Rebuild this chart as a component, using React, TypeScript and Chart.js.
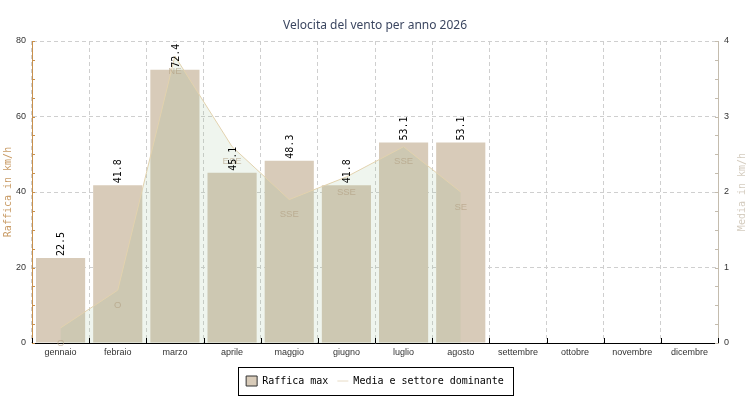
import React, { useEffect, useRef } from 'react';
import { Chart, registerables } from 'chart.js';

Chart.register(...registerables);

const mesi = [
  'gennaio', 'febraio', 'marzo', 'aprile', 'maggio', 'giugno',
  'luglio', 'agosto', 'settembre', 'ottobre', 'novembre', 'dicembre',
];
// raffica massima (km/h), asse sinistro
const raffica = [22.5, 41.8, 72.4, 45.1, 48.3, 41.8, 53.1, 53.1, null, null, null, null];
// velocita media (km/h), asse destro
const media = [0.2, 0.7, 3.8, 2.6, 1.9, 2.2, 2.6, 2.0, null, null, null, null];
// settore dominante
const settore = ['O', 'O', 'NE', 'ESE', 'SSE', 'SSE', 'SSE', 'SE', '', '', '', ''];

const titolo = 'Velocita del vento per anno 2026';
const titoloSx = 'Raffica in km/h';
const titoloDx = 'Media in km/h';

const coloreSx = '#c8904c';
const coloreDx = '#c4bcae';
const mono = '"DejaVu Sans Mono", monospace';
const sans = '"Liberation Sans", Arial, sans-serif';

// etichette sulle barre e settori sui punti
const etichette = {
  id: 'etichette',
  afterDatasetsDraw(chart: any) {
    const ctx = chart.ctx;
    ctx.save();
    const punti = chart.getDatasetMeta(1);
    ctx.font = '9.5px ' + sans;
    ctx.fillStyle = 'rgba(175,155,125,0.6)';
    ctx.textAlign = 'center';
    ctx.textBaseline = 'middle';
    punti.data.forEach((p: any, i: number) => {
      if (media[i] == null || !settore[i]) return;
      ctx.fillText(settore[i], p.x, p.y + 15);
    });

    const barre = chart.getDatasetMeta(0);
    ctx.font = '10px ' + mono;
    ctx.fillStyle = '#000';
    ctx.textAlign = 'left';
    barre.data.forEach((b: any, i: number) => {
      const v = raffica[i];
      if (v == null) return;
      ctx.save();
      ctx.translate(b.x + 1, b.y - 2);
      ctx.rotate(-Math.PI / 2);
      ctx.fillText(v.toFixed(1), 0, 0);
      ctx.restore();
    });
    ctx.restore();
  },
};

// tacche interne sugli assi, titoli assi, cornice legenda
const decorazioni = {
  id: 'decorazioni',
  afterDraw(chart: any) {
    const { ctx, chartArea: ca, scales } = chart;
    ctx.save();
    ctx.lineWidth = 1;
    const seg = (x1: number, y1: number, x2: number, y2: number) => {
      ctx.beginPath();
      ctx.moveTo(x1, y1);
      ctx.lineTo(x2, y2);
      ctx.stroke();
    };

    ctx.strokeStyle = coloreSx;
    for (let v = 0; v <= 80; v += 5) {
      const y = Math.round(scales.y.getPixelForValue(v)) + 0.5;
      seg(ca.left, y, ca.left + 3, y);
    }
    ctx.strokeStyle = coloreDx;
    for (let v = 0; v <= 4; v += 0.25) {
      const y = Math.round(scales.y1.getPixelForValue(v)) + 0.5;
      seg(ca.right - 3, y, ca.right, y);
    }
    ctx.strokeStyle = '#000';
    for (let i = 0; i <= mesi.length; i++) {
      const x = Math.round(ca.left + (i * (ca.right - ca.left)) / mesi.length) + 0.5;
      seg(x, ca.bottom - 5, x, ca.bottom);
    }

    const cy = (ca.top + ca.bottom) / 2;
    ctx.font = '10px ' + mono;
    ctx.textAlign = 'center';
    ctx.textBaseline = 'middle';
    ctx.fillStyle = '#c89a64';
    ctx.save();
    ctx.translate(8, cy);
    ctx.rotate(-Math.PI / 2);
    ctx.fillText(titoloSx, 0, 0);
    ctx.restore();
    ctx.fillStyle = '#d4ccbf';
    ctx.save();
    ctx.translate(chart.width - 8, cy);
    ctx.rotate(-Math.PI / 2);
    ctx.fillText(titoloDx, 0, 0);
    ctx.restore();

    const lg = chart.legend;
    if (lg && lg.legendHitBoxes && lg.legendHitBoxes.length) {
      const hb = lg.legendHitBoxes;
      const l = Math.min(...hb.map((h: any) => h.left)) - 8;
      const r = Math.max(...hb.map((h: any) => h.left + h.width)) + 9;
      ctx.strokeStyle = '#000';
      ctx.strokeRect(Math.round(l) + 0.5, Math.round(lg.top) + 0.5, Math.round(r - l), Math.round(lg.height) - 1);
    }
    ctx.restore();
  },
};

const App: React.FC = () => {
  const canvasRef = useRef<HTMLCanvasElement>(null);
  const chartRef = useRef<Chart | null>(null);

  useEffect(() => {
    document.body.style.margin = '0';
    if (!canvasRef.current) return;
    if (chartRef.current) chartRef.current.destroy();

    chartRef.current = new Chart(canvasRef.current, {
      type: 'bar',
      data: {
        labels: mesi,
        datasets: [
          {
            type: 'bar',
            label: 'Raffica max',
            data: raffica,
            backgroundColor: '#d8cbb9',
            borderWidth: 0,
            categoryPercentage: 1,
            barPercentage: 0.86,
            yAxisID: 'y',
            order: 1,
          },
          {
            type: 'line',
            label: 'Media e settore dominante',
            data: media,
            borderColor: '#e2d2ae',
            borderWidth: 1,
            backgroundColor: 'rgba(150,190,140,0.15)',
            fill: 'origin',
            pointRadius: 0,
            tension: 0,
            yAxisID: 'y1',
            order: 0,
          },
        ] as any,
      },
      options: {
        animation: false,
        responsive: true,
        maintainAspectRatio: false,
        layout: { padding: { top: 0, left: 0, right: 0, bottom: 4 } },
        plugins: {
          title: {
            display: true,
            text: titolo,
            color: '#3b4660',
            font: { family: '"Noto Sans", sans-serif', size: 12, weight: 'normal' },
            padding: { top: 18, bottom: 8.6 },
          },
          legend: {
            position: 'bottom',
            labels: {
              font: { family: mono, size: 10 },
              color: '#000',
              usePointStyle: true,
              boxHeight: 10,
              pointStyleWidth: 11,
              padding: 9,
              sort: (a: any, b: any) => a.datasetIndex - b.datasetIndex,
              generateLabels: (chart: any) => {
                const items = Chart.defaults.plugins.legend.labels.generateLabels(chart);
                items.forEach((it: any) => {
                  if (it.datasetIndex === 0) {
                    it.pointStyle = 'rect';
                    it.fillStyle = '#d8cbb9';
                    it.strokeStyle = '#333';
                    it.lineWidth = 1;
                  } else {
                    it.pointStyle = 'line';
                    it.strokeStyle = '#e8dcc6';
                    it.lineWidth = 1;
                  }
                });
                return items;
              },
            },
          },
          tooltip: { enabled: false },
        },
        scales: {
          x: {
            grid: { color: '#cfcfcf', drawTicks: false, offset: true },
            border: { color: '#000', dash: [4, 3] },
            ticks: { font: { family: sans, size: 9 }, color: '#333', padding: 4, maxRotation: 0, autoSkip: false },
            afterFit: (s: any) => { s.height = 24; },
          },
          y: {
            position: 'left',
            min: 0,
            max: 80,
            ticks: { stepSize: 20, font: { family: sans, size: 9 }, color: '#333', padding: 6 },
            grid: { color: '#cfcfcf', drawTicks: false },
            border: { color: coloreSx, dash: [4, 3] },
            afterFit: (s: any) => { s.width = 32; },
          },
          y1: {
            position: 'right',
            min: 0,
            max: 4,
            ticks: { stepSize: 1, font: { family: sans, size: 9 }, color: '#333', padding: 6 },
            grid: { drawOnChartArea: false, drawTicks: false },
            border: { color: coloreDx },
            afterFit: (s: any) => { s.width = 32; },
          },
        },
      } as any,
      plugins: [etichette, decorazioni],
    });

    return () => {
      if (chartRef.current) {
        chartRef.current.destroy();
        chartRef.current = null;
      }
    };
  }, []);

  return (
    <div style={{ width: 750, height: 400, position: 'relative', background: '#fff' }}>
      <canvas ref={canvasRef} />
    </div>
  );
};

export default App;
